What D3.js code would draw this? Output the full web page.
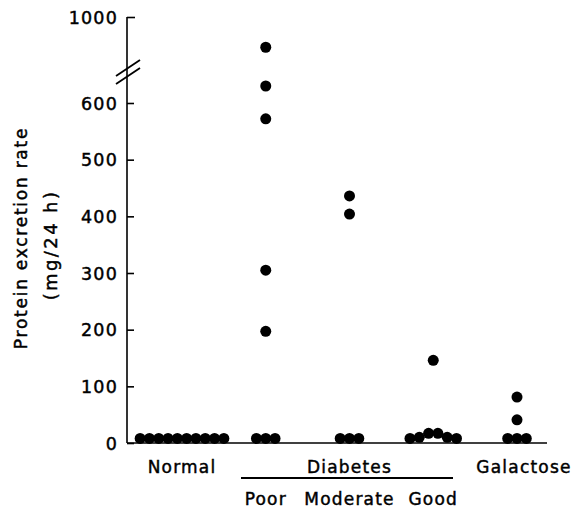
<!DOCTYPE html>
<html>
<head>
<meta charset="utf-8">
<script src="https://cdn.jsdelivr.net/npm/d3@7"></script>
<style>
  body { margin: 0; background: #fff; }
  text { font-family: "DejaVu Sans", sans-serif; fill: #000; }
</style>
</head>
<body>
<div id="chart"></div>
<script>
// groups along the x axis
var groups = ['Normal', 'Poor', 'Moderate', 'Good', 'Galactose'];

// protein excretion rate (mg/24 h), one entry per subject, with its slot in the cluster
var normalValues = [8, 8, 8, 8, 8, 8, 8, 8, 8, 8];
var normalSlots = [-4.5, -3.5, -2.5, -1.5, -0.5, 0.5, 1.5, 2.5, 3.5, 4.5];
var poorValues = [880, 630, 572, 305, 197, 8, 8, 8];
var poorSlots = [0, 0, 0, 0, 0, -1, 0, 1];
var moderateValues = [436, 404, 8, 8, 8];
var moderateSlots = [0, 0, -1, 0, 1];
var goodValues = [146, 8, 10, 17, 17, 10, 8];
var goodSlots = [0, -2.5, -1.5, -0.5, 0.5, 1.5, 2.5];
var galactoseValues = [81, 41, 8, 8, 8];
var galactoseSlots = [0, 0, -1, 0, 1];

var lowTicks = [0, 100, 200, 300, 400, 500, 600];
var highTicks = [1000];

var width = 573,
    height = 508,
    axisX = 127,
    slotWidth = 9.3,
    radius = 5.5;

var svg = d3.select('#chart')
  .append('svg')
  .attr('width', width)
  .attr('height', height);

var x = d3.scalePoint()
  .domain(groups)
  .range([182, 517]);

var yLow = d3.scaleLinear()
  .domain([0, 600])
  .range([443, 103]);

var yHigh = d3.scaleLinear()
  .domain([750, 1000])
  .range([80, 17]);

function y(v) {
  return v > 650 ? yHigh(v) : yLow(v);
}

var points = [];
function addGroup(name, values, slots) {
  values.forEach(function(v, i) {
    points.push({ group: name, value: v, slot: slots[i] });
  });
}
addGroup('Normal', normalValues, normalSlots);
addGroup('Poor', poorValues, poorSlots);
addGroup('Moderate', moderateValues, moderateSlots);
addGroup('Good', goodValues, goodSlots);
addGroup('Galactose', galactoseValues, galactoseSlots);

var textStyle = function(sel) {
  sel.style('font-size', '17px')
    .style('letter-spacing', '1.2px')
    .style('stroke', '#000')
    .style('stroke-width', '0.45px');
};

// y axis: two segments sharing one line
var lowAxis = svg.append('g')
  .attr('transform', 'translate(' + axisX + ',0)')
  .call(d3.axisLeft(yLow).tickValues(lowTicks).tickFormat(d3.format('d'))
    .tickSizeInner(-7).tickSizeOuter(0).tickPadding(9));
var highAxis = svg.append('g')
  .attr('transform', 'translate(' + axisX + ',0)')
  .call(d3.axisLeft(yHigh).tickValues(highTicks).tickFormat(d3.format('d'))
    .tickSizeInner(-8).tickSizeOuter(0).tickPadding(9));

[lowAxis, highAxis].forEach(function(a) {
  a.select('.domain').remove();
  a.selectAll('.tick line').attr('stroke', '#000').attr('stroke-width', 1.6);
  a.selectAll('.tick text')
    .call(textStyle)
    .style('font-size', '17.5px')
    .attr('dy', '0.36em');
});

svg.append('line')
  .attr('x1', axisX).attr('x2', axisX)
  .attr('y1', yHigh(1000)).attr('y2', yLow(0))
  .attr('stroke', '#000').attr('stroke-width', 1.6);

// break marks
var breakY = 72;
[-4, 4].forEach(function(d) {
  svg.append('line')
    .attr('x1', axisX - 11).attr('y1', breakY + d + 8)
    .attr('x2', axisX + 13).attr('y2', breakY + d - 8)
    .attr('stroke', '#000').attr('stroke-width', 1.8);
});

// x axis line
svg.append('line')
  .attr('x1', axisX).attr('x2', 547)
  .attr('y1', yLow(0)).attr('y2', yLow(0))
  .attr('stroke', '#000').attr('stroke-width', 1.6);

// dots
svg.selectAll('circle.dot')
  .data(points)
  .enter()
  .append('circle')
  .attr('class', 'dot')
  .attr('cx', function(d) { return x(d.group) + d.slot * slotWidth; })
  .attr('cy', function(d) { return y(d.value); })
  .attr('r', radius)
  .attr('fill', '#000');

// group labels
var labelStyle = function(sel) {
  sel.call(textStyle).attr('text-anchor', 'middle');
};

svg.append('text').attr('x', x('Normal')).attr('y', 473).text('Normal').call(labelStyle);
svg.append('text').attr('x', x('Galactose') + 7).attr('y', 473).text('Galactose').call(labelStyle);
svg.append('text').attr('x', x('Moderate')).attr('y', 473).text('Diabetes').call(labelStyle);
svg.append('line')
  .attr('x1', 241).attr('x2', 453)
  .attr('y1', 478).attr('y2', 478)
  .attr('stroke', '#000').attr('stroke-width', 1.8);
['Poor', 'Moderate', 'Good'].forEach(function(g) {
  svg.append('text').attr('x', x(g)).attr('y', 505).text(g).call(labelStyle);
});

// y axis title
svg.append('text')
  .attr('transform', 'translate(27,238) rotate(-90)')
  .text('Protein excretion rate')
  .call(labelStyle)
  .style('letter-spacing', '1.75px');
svg.append('text')
  .attr('transform', 'translate(57,245) rotate(-90)')
  .text('(mg/24 h)')
  .call(labelStyle)
  .style('font-size', '18px')
  .style('letter-spacing', '2.4px');
</script>
</body>
</html>
